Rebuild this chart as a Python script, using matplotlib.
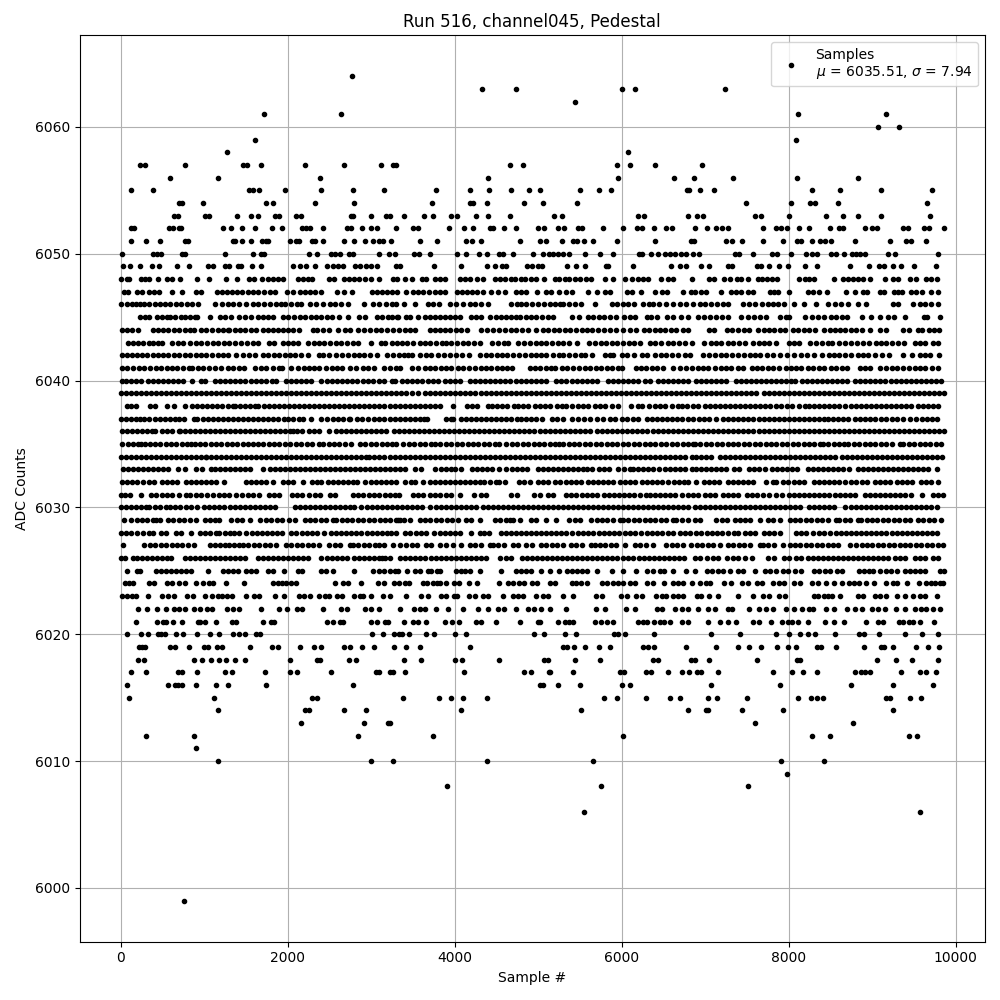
import matplotlib
matplotlib.use("Agg")
import matplotlib.pyplot as plt

# Sample numbers, one list per ADC level
adc_6064 = [2775]
adc_6063 = [4325, 4740, 6000, 6155, 7235]
adc_6062 = [5436]
adc_6061 = [1715, 2637, 8111, 9166]
adc_6060 = [9070, 9321]
adc_6059 = [1607, 8088]
adc_6058 = [1271, 6075]
adc_6057 = [229, 289, 768, 1463, 1511, 1679, 2206, 2673, 3116, 3260, 3300, 4661, 4817, 5943, 6099, 6398, 6962]
adc_6056 = [589, 1164, 2385, 4398, 5955, 6626, 6866, 7333, 8100, 8830]
adc_6055 = [121, 385, 1535, 1583, 1655, 1966, 2397, 2781, 3152, 3775, 4182, 4410, 4673, 4889, 5021, 5500, 5728, 5871, 6782, 6806, 6938, 7105, 8279, 8615, 9106, 9717]
adc_6054 = [696, 732, 984, 1739, 1822, 2326, 2793, 3727, 4182, 4218, 4386, 4829, 5057, 5464, 7489, 8028, 8255, 8315, 8591, 9657]
adc_6053 = [640, 684, 1008, 1056, 1391, 1559, 1643, 1846, 1894, 2098, 2158, 2757, 2781, 2996, 3176, 3220, 3392, 3631, 3739, 3955, 4027, 4254, 4398, 4661, 5189, 5284, 6195, 6267, 6794, 6902, 6974, 7596, 7668, 8004, 8447, 8651, 8830, 9106, 9693]
adc_6052 = [125, 165, 577, 624, 696, 724, 1223, 1319, 1451, 1607, 1810, 1930, 2170, 2222, 2270, 2421, 2709, 2757, 2888, 2996, 3068, 3296, 3500, 3560, 3931, 4110, 4218, 4422, 4458, 4590, 4733, 4997, 5069, 5236, 5308, 5476, 5524, 5776, 6015, 6183, 6243, 6387, 6530, 6602, 6882, 7021, 7129, 7201, 7273, 7692, 7848, 7908, 7980, 8124, 8243, 8495, 8603, 8651, 8914, 8998, 9058, 9369, 9429, 9621, 9681, 9860]
adc_6051 = [129, 301, 469, 768, 812, 1343, 1367, 1451, 1559, 1691, 1742, 1762, 2026, 2098, 2134, 2290, 2333, 2421, 2673, 2793, 2924, 3020, 3092, 3140, 3232, 3583, 3787, 4134, 4206, 4314, 4781, 5021, 5093, 5284, 5416, 5464, 5548, 5656, 5943, 6398, 6830, 6866, 7249, 7321, 7441, 7692, 7932, 8100, 8147, 8279, 8375, 8435, 8507, 8794, 9214, 9405, 9465, 9645]
adc_6050 = [14, 385, 433, 481, 732, 768, 1247, 1583, 1679, 1714, 2254, 2349, 2517, 2565, 2625, 2733, 2781, 3092, 3212, 3284, 3511, 3579, 3703, 4027, 4134, 4290, 4386, 4530, 4578, 4697, 4937, 5057, 5129, 5177, 5236, 5296, 5368, 5560, 5744, 5895, 6207, 6243, 6350, 6434, 6518, 6574, 6634, 6710, 6770, 6854, 6926, 7357, 7405, 7572, 7800, 7860, 8028, 8207, 8279, 8339, 8507, 8567, 8662, 8758, 8810, 8854, 8914, 9190, 9273, 9789]
adc_6049 = [25, 109, 229, 373, 457, 672, 816, 1044, 1104, 1247, 1295, 1403, 1439, 1571, 1679, 2062, 2146, 2218, 2333, 2469, 2541, 2601, 2661, 2805, 2861, 2936, 2996, 3068, 3300, 3340, 3751, 4075, 4386, 4482, 4566, 4614, 4865, 4925, 4997, 5045, 5344, 5452, 5560, 5811, 5835, 6135, 6590, 6698, 6770, 6950, 7045, 7273, 7321, 7620, 7672, 7764, 7884, 7992, 8195, 8339, 8734, 8962, 9082, 9142, 9250, 9345, 9501, 9765]
adc_6048 = [1, 73, 105, 241, 289, 345, 445, 553, 616, 708, 912, 1056, 1259, 1391, 1535, 1595, 1691, 1762, 1822, 1882, 1942, 2122, 2182, 2242, 2290, 2493, 2553, 2673, 2733, 2793, 2852, 2924, 2996, 3092, 3260, 3308, 3404, 3488, 3607, 3655, 3763, 3819, 3879, 4063, 4122, 4182, 4266, 4338, 4482, 4538, 4598, 4673, 4721, 4793, 4841, 4913, 4977, 5069, 5200, 5248, 5320, 5376, 5436, 5496, 5576, 5636, 5800, 5895, 6039, 6123, 6195, 6255, 6315, 6470, 6554, 6614, 6842, 7045, 7105, 7225, 7293, 7381, 7429, 7513, 7632, 7680, 7740, 7800, 7860, 8124, 8195, 8243, 8303, 8543, 8650, 8710, 8770, 8830, 8890, 8970, 9154, 9250, 9310, 9450, 9525, 9645, 9705, 9777]
adc_6047 = [40, 90, 190, 250, 340, 400, 460, 620, 740, 900, 960, 1150, 1210, 1270, 1330, 1390, 1450, 1530, 1590, 1650, 1720, 1790, 1850, 1990, 2060, 2150, 2210, 2270, 2330, 2400, 2590, 2670, 2770, 3010, 3070, 3130, 3190, 3250, 3310, 3420, 3500, 3560, 3620, 3690, 3770, 3830, 3890, 4030, 4090, 4150, 4210, 4270, 4340, 4440, 4520, 4600, 4730, 4790, 4850, 4990, 5090, 5150, 5250, 5330, 5400, 5600, 5700, 5800, 5860, 6060, 6120, 6230, 6400, 6480, 6540, 6734, 6830, 6878, 6950, 7010, 7189, 7305, 7373, 7433, 7513, 7572, 7776, 7824, 7872, 8004, 8231, 8291, 8363, 8459, 8687, 8794, 8890, 8938, 9094, 9142, 9262, 9310, 9357, 9465, 9525, 9597, 9705, 9789]
adc_6046 = [5, 70, 130, 185, 235, 280, 345, 410, 470, 530, 595, 660, 720, 790, 860, 925, 1124, 1210, 1280, 1350, 1420, 1500, 1580, 1650, 1720, 1790, 1860, 1920, 1970, 2040, 2110, 2160, 2270, 2340, 2420, 2510, 2570, 2640, 2720, 2920, 3025, 3100, 3180, 3255, 3300, 3392, 3523, 3685, 3740, 3807, 3947, 4019, 4098, 4180, 4250, 4320, 4398, 4680, 4750, 4790, 4860, 4930, 5000, 5070, 5137, 5200, 5257, 5300, 5370, 5440, 5516, 5680, 5880, 5950, 6015, 6080, 6150, 6255, 6327, 6380, 6450, 6530, 6610, 6700, 6770, 6850, 6934, 7000, 7070, 7140, 7213, 7273, 7460, 7530, 7600, 7680, 7750, 7810, 7872, 7944, 8060, 8183, 8331, 8471, 8555, 8630, 8710, 8835, 8930, 9250, 9310, 9495, 9570, 9640, 9710, 9789]
adc_6045 = [230, 290, 340, 430, 490, 560, 590, 650, 720, 770, 830, 890, 920, 1070, 1190, 1250, 1320, 1420, 1490, 1560, 1650, 1710, 1770, 1830, 1950, 2010, 2080, 2150, 2210, 2280, 2340, 2400, 2470, 2530, 2620, 2720, 2850, 2930, 3070, 3130, 3200, 3250, 3310, 3325, 3420, 3470, 3560, 3640, 3700, 3760, 3820, 3880, 3950, 4010, 4060, 4200, 4260, 4320, 4420, 4490, 4550, 4610, 4670, 4730, 4780, 4860, 4920, 4980, 5050, 5120, 5180, 5400, 5490, 5600, 5660, 5730, 5790, 5860, 5930, 6030, 6100, 6160, 6300, 6350, 6430, 6540, 6620, 6710, 6790, 6920, 6990, 7060, 7130, 7200, 7280, 7430, 7520, 7590, 7660, 7730, 7900, 7970, 8000, 8200, 8280, 8350, 8420, 8510, 8570, 8640, 8700, 8880, 8990, 9100, 9190, 9260, 9400, 9620, 9660, 9810]
adc_6044 = [10, 70, 140, 210, 390, 450, 510, 570, 640, 700, 770, 830, 880, 960, 1020, 1090, 1170, 1230, 1290, 1300, 1370, 1430, 1490, 1560, 1620, 1700, 1760, 1830, 1890, 1950, 2010, 2070, 2130, 2300, 2350, 2420, 2490, 2600, 2690, 2750, 2840, 2910, 2990, 3060, 3120, 3190, 3260, 3330, 3400, 3470, 3530, 3700, 3760, 3820, 3880, 3950, 4020, 4080, 4150, 4320, 4390, 4460, 4530, 4600, 4670, 4740, 4810, 4880, 4980, 5060, 5120, 5190, 5250, 5320, 5380, 5450, 5520, 5590, 5650, 5720, 5790, 5860, 5930, 6020, 6100, 6170, 6270, 6330, 6400, 6460, 6520, 6590, 6650, 6740, 6800, 7050, 7110, 7260, 7320, 7400, 7470, 7530, 7630, 7700, 7760, 7820, 7900, 7960, 8050, 8110, 8180, 8250, 8320, 8430, 8500, 8560, 8620, 8680, 8750, 8810, 8880, 8980, 9100, 9170, 9370, 9440, 9550, 9600, 9680, 9740, 9800]
adc_6043 = [90, 150, 210, 270, 340, 390, 450, 500, 620, 690, 750, 830, 900, 960, 1030, 1100, 1170, 1240, 1300, 1370, 1440, 1510, 1580, 1650, 1780, 1840, 1940, 2000, 2060, 2120, 2240, 2310, 2370, 2440, 2510, 2580, 2640, 2710, 2780, 2840, 3000, 3120, 3170, 3250, 3310, 3370, 3430, 3500, 3580, 3640, 3710, 3780, 3850, 3900, 3960, 4030, 4100, 4160, 4230, 4300, 4450, 4520, 4590, 4640, 4760, 4830, 4900, 4970, 5040, 5100, 5170, 5240, 5300, 5370, 5460, 5610, 5680, 5750, 5810, 5880, 5950, 6020, 6090, 6150, 6220, 6340, 6400, 6470, 6560, 6620, 6690, 6760, 6840, 6990, 7070, 7130, 7190, 7280, 7340, 7410, 7480, 7580, 7640, 7710, 7770, 7850, 8000, 8070, 8130, 8260, 8330, 8400, 8470, 8520, 8610, 8680, 8750, 8820, 8890, 8960, 9050, 9110, 9170, 9240, 9310, 9380, 9510, 9570, 9630, 9730, 9790]
adc_6042 = [10, 70, 130, 190, 250, 320, 390, 450, 510, 570, 640, 700, 770, 830, 900, 960, 1020, 1090, 1170, 1230, 1290, 1380, 1460, 1540, 1610, 1700, 1770, 1840, 1900, 1970, 2030, 2090, 2160, 2240, 2380, 2420, 2500, 2580, 2650, 2720, 2790, 2860, 2920, 2990, 3070, 3190, 3260, 3330, 3390, 3440, 3490, 3580, 3660, 3720, 3800, 3870, 3950, 4020, 4090, 4170, 4300, 4380, 4440, 4510, 4570, 4630, 4700, 4770, 4840, 4910, 4970, 5030, 5100, 5180, 5250, 5300, 5370, 5440, 5510, 5560, 5650, 5800, 5860, 5900, 6000, 6070, 6150, 6250, 6310, 6400, 6470, 6530, 6600, 6670, 6760, 6820, 6980, 7050, 7120, 7190, 7250, 7320, 7390, 7470, 7540, 7600, 7660, 7740, 7810, 7900, 7980, 8070, 8150, 8220, 8300, 8400, 8480, 8540, 8610, 8680, 8750, 8830, 8890, 8950, 9030, 9120, 9200, 9370, 9480, 9580, 9640, 9700, 9800]
adc_6041 = [15, 80, 150, 220, 280, 350, 420, 480, 550, 610, 680, 750, 820, 860, 930, 980, 1060, 1130, 1200, 1290, 1350, 1420, 1480, 1610, 1680, 1740, 1820, 1900, 1930, 2040, 2120, 2190, 2260, 2320, 2380, 2460, 2530, 2590, 2650, 2750, 2820, 2900, 2960, 3040, 3150, 3220, 3300, 3350, 3490, 3560, 3640, 3700, 3760, 3840, 3900, 3960, 4040, 4100, 4170, 4240, 4310, 4380, 4440, 4510, 4570, 4630, 4690, 4900, 4960, 5020, 5090, 5150, 5200, 5290, 5350, 5420, 5490, 5560, 5620, 5690, 5750, 5820, 5890, 5960, 6010, 6170, 6230, 6290, 6360, 6430, 6500, 6620, 6700, 6770, 6840, 6910, 6980, 7040, 7120, 7190, 7250, 7310, 7390, 7450, 7560, 7620, 7680, 7750, 7810, 7890, 7970, 8030, 8090, 8150, 8230, 8290, 8360, 8420, 8510, 8570, 8640, 8700, 8860, 8920, 8980, 9100, 9170, 9240, 9300, 9370, 9440, 9510, 9570, 9640, 9720, 9790]
adc_6040 = [10, 60, 120, 180, 240, 330, 390, 450, 510, 570, 630, 690, 750, 860, 960, 1010, 1130, 1190, 1250, 1310, 1370, 1430, 1490, 1560, 1620, 1680, 1740, 1810, 1860, 1980, 2040, 2100, 2160, 2220, 2280, 2400, 2470, 2530, 2590, 2650, 2710, 2770, 2830, 2900, 2960, 3020, 3090, 3150, 3250, 3290, 3370, 3430, 3490, 3550, 3610, 3680, 3740, 3800, 3880, 3940, 4000, 4060, 4180, 4240, 4300, 4360, 4420, 4480, 4540, 4600, 4660, 4730, 4790, 4860, 4920, 4980, 5040, 5100, 5220, 5280, 5340, 5400, 5460, 5520, 5580, 5640, 5700, 5840, 5900, 5960, 6020, 6080, 6140, 6200, 6280, 6340, 6440, 6500, 6560, 6620, 6680, 6740, 6800, 6890, 6950, 7010, 7070, 7130, 7190, 7250, 7370, 7430, 7490, 7550, 7610, 7670, 7730, 7790, 7850, 7910, 7970, 8030, 8080, 8160, 8220, 8280, 8340, 8400, 8460, 8520, 8580, 8640, 8700, 8790, 8850, 8910, 8970, 9030, 9090, 9150, 9230, 9290, 9350, 9410, 9470, 9530, 9590, 9650, 9710, 9770, 9830]
adc_6039 = [0, 60, 120, 180, 240, 300, 360, 420, 480, 540, 600, 660, 720, 780, 840, 900, 960, 1020, 1080, 1140, 1200, 1260, 1320, 1380, 1440, 1500, 1560, 1620, 1680, 1740, 1800, 1860, 1920, 1980, 2040, 2100, 2160, 2220, 2280, 2340, 2400, 2460, 2520, 2580, 2640, 2700, 2760, 2820, 2880, 2940, 3000, 3060, 3120, 3180, 3240, 3300, 3360, 3420, 3490, 3560, 3640, 3700, 3770, 3830, 3890, 3950, 4010, 4070, 4130, 4190, 4250, 4310, 4370, 4430, 4490, 4550, 4610, 4670, 4730, 4790, 4850, 4910, 4970, 5030, 5090, 5150, 5210, 5270, 5330, 5390, 5450, 5510, 5570, 5630, 5690, 5750, 5810, 5870, 5930, 5990, 6050, 6110, 6170, 6230, 6290, 6350, 6410, 6470, 6530, 6590, 6650, 6710, 6770, 6830, 6890, 6950, 7010, 7070, 7130, 7190, 7250, 7310, 7370, 7430, 7490, 7550, 7610, 7700, 7760, 7820, 7880, 7940, 8000, 8060, 8120, 8180, 8240, 8300, 8360, 8420, 8480, 8540, 8600, 8660, 8720, 8780, 8840, 8900, 8960, 9020, 9080, 9140, 9200, 9260, 9320, 9380, 9440, 9500, 9560, 9620, 9680, 9740, 9800, 9860]
adc_6038 = [70, 120, 180, 350, 410, 560, 640, 770, 860, 910, 970, 1030, 1090, 1150, 1210, 1280, 1350, 1370, 1430, 1490, 1550, 1610, 1640, 1720, 1780, 1840, 1900, 1960, 2020, 2080, 2140, 2200, 2260, 2320, 2380, 2440, 2500, 2560, 2620, 2680, 2740, 2800, 2860, 2920, 2980, 3040, 3100, 3160, 3220, 3280, 3340, 3400, 3460, 3520, 3580, 3640, 3700, 3760, 3830, 3980, 4150, 4210, 4270, 4400, 4450, 4510, 4570, 4630, 4710, 4760, 4820, 4880, 4960, 5020, 5080, 5140, 5230, 5290, 5340, 5410, 5480, 5540, 5600, 5680, 5740, 5800, 5880, 5960, 6110, 6200, 6250, 6330, 6400, 6460, 6520, 6600, 6680, 6720, 6780, 6850, 6910, 7000, 7060, 7120, 7180, 7240, 7300, 7360, 7420, 7480, 7540, 7600, 7660, 7720, 7780, 7850, 7910, 7980, 8040, 8130, 8200, 8250, 8310, 8370, 8430, 8490, 8550, 8610, 8680, 8750, 8810, 8870, 8930, 8990, 9050, 9110, 9170, 9230, 9290, 9350, 9410, 9470, 9550, 9610, 9670, 9730, 9790]
adc_6037 = [0, 60, 120, 180, 230, 280, 340, 410, 470, 530, 590, 650, 700, 760, 880, 920, 980, 1040, 1100, 1160, 1220, 1280, 1350, 1400, 1460, 1520, 1590, 1640, 1700, 1760, 1820, 1880, 1960, 2010, 2070, 2130, 2180, 2280, 2400, 2470, 2540, 2600, 2660, 2730, 2750, 2830, 2890, 2960, 3030, 3090, 3160, 3220, 3280, 3340, 3400, 3460, 3520, 3580, 3630, 3670, 3900, 3980, 3960, 4080, 4140, 4200, 4260, 4320, 4380, 4440, 4500, 4560, 4620, 4680, 4750, 4800, 4860, 4920, 4980, 5050, 5170, 5230, 5300, 5400, 5480, 5550, 5620, 5700, 5780, 5860, 5920, 6010, 6060, 6140, 6200, 6300, 6360, 6420, 6480, 6540, 6600, 6660, 6720, 6790, 6850, 6930, 6990, 7050, 7130, 7220, 7280, 7340, 7400, 7460, 7520, 7580, 7640, 7700, 7760, 7820, 7880, 7950, 8010, 8070, 8130, 8190, 8250, 8310, 8370, 8430, 8470, 8530, 8590, 8650, 8710, 8800, 8860, 8920, 8980, 9040, 9110, 9170, 9240, 9300, 9370, 9460, 9530, 9600, 9660, 9720, 9780]
adc_6036 = [20, 80, 140, 200, 260, 320, 380, 410, 500, 560, 610, 700, 710, 770, 830, 890, 950, 1010, 1070, 1130, 1190, 1250, 1310, 1370, 1430, 1490, 1550, 1610, 1670, 1730, 1790, 1850, 1910, 1970, 2030, 2060, 2110, 2170, 2260, 2320, 2380, 2500, 2580, 2640, 2700, 2760, 2820, 2880, 2940, 3000, 3060, 3120, 3180, 3270, 3330, 3390, 3450, 3510, 3570, 3630, 3690, 3750, 3810, 3870, 3930, 3990, 4050, 4110, 4170, 4230, 4290, 4350, 4410, 4470, 4530, 4590, 4650, 4710, 4770, 4830, 4890, 4950, 5020, 5080, 5140, 5200, 5260, 5320, 5380, 5440, 5500, 5560, 5620, 5700, 5770, 5830, 5890, 5950, 6010, 6070, 6130, 6190, 6250, 6310, 6380, 6440, 6500, 6560, 6620, 6680, 6740, 6800, 6860, 6920, 6980, 7040, 7100, 7160, 7220, 7280, 7340, 7400, 7460, 7520, 7580, 7640, 7700, 7760, 7820, 7880, 7940, 8000, 8060, 8120, 8180, 8240, 8300, 8360, 8420, 8480, 8540, 8600, 8660, 8720, 8780, 8840, 8900, 8960, 9020, 9080, 9140, 9200, 9260, 9320, 9380, 9440, 9500, 9560, 9620, 9680, 9740, 9800, 9860]
adc_6035 = [14, 90, 150, 210, 245, 290, 350, 415, 475, 540, 600, 665, 730, 790, 844, 890, 950, 1015, 1080, 1140, 1205, 1270, 1330, 1395, 1460, 1520, 1585, 1650, 1710, 1775, 1840, 1900, 1965, 2030, 2100, 2165, 2230, 2295, 2380, 2425, 2490, 2555, 2620, 2690, 2760, 2865, 2930, 2995, 3060, 3125, 3190, 3250, 3300, 3385, 3450, 3515, 3580, 3650, 3720, 3765, 3830, 3895, 3960, 4025, 4090, 4155, 4220, 4285, 4350, 4415, 4480, 4535, 4620, 4685, 4750, 4815, 4880, 4945, 5010, 5075, 5140, 5205, 5255, 5300, 5365, 5430, 5495, 5560, 5625, 5690, 5755, 5820, 5885, 5950, 6015, 6080, 6145, 6210, 6275, 6340, 6405, 6470, 6535, 6600, 6665, 6730, 6795, 6850, 6880, 6945, 7010, 7075, 7140, 7205, 7270, 7335, 7400, 7465, 7530, 7595, 7660, 7725, 7790, 7855, 7920, 7985, 8050, 8115, 8180, 8245, 8310, 8375, 8410, 8475, 8540, 8605, 8670, 8715, 8780, 8845, 8910, 8975, 9040, 9105, 9170, 9235, 9330, 9375, 9440, 9505, 9570, 9635, 9700, 9770, 9830]
adc_6034 = [0, 60, 120, 180, 240, 300, 360, 420, 480, 540, 600, 660, 720, 780, 840, 900, 960, 1020, 1020, 1080, 1140, 1200, 1260, 1320, 1380, 1440, 1500, 1560, 1620, 1680, 1740, 1800, 1860, 1920, 1980, 2040, 2100, 2160, 2220, 2280, 2340, 2400, 2460, 2520, 2580, 2640, 2700, 2760, 2820, 2880, 2940, 2980, 3040, 3100, 3160, 3220, 3280, 3340, 3400, 3460, 3520, 3580, 3640, 3700, 3760, 3820, 3880, 3940, 4000, 4060, 4120, 4180, 4240, 4300, 4360, 4420, 4480, 4540, 4600, 4660, 4720, 4780, 4840, 4900, 4960, 5020, 5080, 5140, 5200, 5260, 5320, 5380, 5440, 5500, 5560, 5620, 5680, 5740, 5800, 5860, 5920, 5980, 6040, 6100, 6160, 6220, 6280, 6340, 6400, 6460, 6520, 6580, 6640, 6700, 6760, 6840, 6890, 6950, 7010, 7070, 7180, 7240, 7300, 7360, 7420, 7480, 7540, 7600, 7660, 7720, 7780, 7840, 7900, 7960, 8020, 8080, 8140, 8200, 8260, 8320, 8380, 8440, 8500, 8560, 8640, 8700, 8760, 8820, 8880, 8940, 9000, 9060, 9120, 9180, 9240, 9300, 9360, 9420, 9480, 9540, 9600, 9660, 9720, 9780, 9840]
adc_6033 = [30, 90, 150, 210, 270, 330, 390, 450, 510, 570, 690, 770, 900, 970, 1080, 1130, 1190, 1250, 1310, 1370, 1430, 1490, 1550, 1700, 1790, 1850, 1910, 1970, 2030, 2090, 2150, 2210, 2270, 2330, 2390, 2450, 2510, 2570, 2630, 2690, 2750, 2810, 2870, 2930, 2990, 3050, 3110, 3170, 3230, 3290, 3350, 3410, 3520, 3600, 3770, 3840, 3900, 3960, 4010, 4080, 4210, 4270, 4330, 4390, 4450, 4530, 4620, 4690, 4750, 4810, 4870, 5000, 5060, 5120, 5180, 5240, 5300, 5360, 5420, 5480, 5540, 5590, 5640, 5730, 5790, 5850, 5960, 6030, 6100, 6140, 6200, 6260, 6320, 6380, 6450, 6520, 6580, 6640, 6700, 6760, 6840, 6890, 6950, 7010, 7070, 7130, 7190, 7250, 7350, 7410, 7530, 7590, 7650, 7720, 7800, 7860, 7920, 7980, 8040, 8100, 8230, 8290, 8350, 8410, 8470, 8530, 8590, 8650, 8720, 8830, 8890, 8950, 9010, 9070, 9130, 9190, 9250, 9310, 9370, 9430, 9490, 9550, 9610, 9670, 9780]
adc_6032 = [20, 80, 140, 200, 270, 340, 400, 500, 560, 620, 680, 780, 840, 900, 960, 1020, 1080, 1140, 1240, 1500, 1560, 1620, 1680, 1740, 1830, 1950, 2010, 2070, 2180, 2290, 2350, 2400, 2480, 2540, 2600, 2660, 2720, 2780, 2830, 2930, 3000, 3060, 3120, 3180, 3240, 3300, 3410, 3480, 3530, 3620, 3700, 3760, 3820, 3880, 3940, 4000, 4060, 4120, 4180, 4240, 4300, 4350, 4420, 4490, 4530, 4600, 4770, 4830, 4900, 5000, 5060, 5120, 5200, 5260, 5330, 5390, 5450, 5510, 5600, 5660, 5720, 5780, 5840, 5900, 5980, 6040, 6100, 6160, 6240, 6300, 6370, 6430, 6490, 6550, 6630, 6690, 6750, 6800, 6890, 6990, 7050, 7110, 7170, 7270, 7330, 7390, 7450, 7510, 7570, 7730, 7810, 7850, 7930, 7990, 8060, 8120, 8180, 8310, 8370, 8430, 8490, 8550, 8610, 8680, 8750, 8810, 8880, 8940, 9040, 9100, 9160, 9220, 9300, 9360, 9420, 9480, 9590, 9650, 9710, 9790]
adc_6031 = [0, 50, 110, 240, 360, 420, 490, 560, 620, 700, 780, 830, 900, 960, 1030, 1110, 1180, 1240, 1300, 1380, 1450, 1530, 1590, 1660, 1780, 1840, 1900, 2050, 2110, 2170, 2260, 2330, 2390, 2510, 2570, 2780, 2840, 2900, 2970, 3030, 3090, 3170, 3220, 3290, 3330, 3500, 3560, 3620, 3700, 3760, 3830, 3900, 3960, 4060, 4230, 4320, 4380, 4680, 4750, 4950, 5020, 5120, 5180, 5330, 5390, 5450, 5530, 5590, 5650, 5710, 5790, 5850, 5910, 5970, 6030, 6090, 6150, 6220, 6290, 6340, 6400, 6460, 6520, 6580, 6640, 6720, 6790, 6850, 6910, 7000, 7060, 7120, 7210, 7270, 7330, 7400, 7500, 7560, 7620, 7690, 7770, 7850, 7920, 8000, 8070, 8130, 8190, 8250, 8310, 8370, 8430, 8490, 8560, 8620, 8680, 8740, 8800, 8920, 8980, 9040, 9100, 9160, 9220, 9280, 9340, 9400, 9470, 9600, 9730, 9790, 9850]
adc_6030 = [0, 60, 120, 180, 240, 300, 340, 410, 470, 540, 590, 650, 710, 780, 840, 920, 1000, 1060, 1120, 1180, 1240, 1310, 1370, 1430, 1490, 1550, 1610, 1670, 1730, 1790, 1850, 2090, 2150, 2210, 2270, 2330, 2390, 2450, 2510, 2570, 2630, 2690, 2750, 2800, 2880, 2950, 3010, 3070, 3130, 3190, 3250, 3310, 3370, 3430, 3490, 3550, 3610, 3700, 3780, 3840, 3900, 3960, 4020, 4080, 4140, 4200, 4260, 4340, 4400, 4460, 4520, 4580, 4640, 4700, 4760, 4820, 4880, 4940, 5000, 5060, 5120, 5180, 5240, 5300, 5360, 5420, 5480, 5540, 5600, 5660, 5720, 5780, 5840, 5900, 5960, 6020, 6080, 6140, 6200, 6260, 6320, 6380, 6440, 6500, 6560, 6620, 6680, 6740, 6800, 6880, 6940, 7000, 7060, 7120, 7180, 7240, 7300, 7360, 7420, 7480, 7540, 7600, 7660, 7720, 7780, 7840, 7900, 7960, 8020, 8080, 8140, 8250, 8310, 8370, 8430, 8490, 8550, 8680, 8750, 8810, 8870, 8930, 8990, 9050, 9110, 9170, 9230, 9290, 9350, 9410, 9470, 9530, 9590, 9650, 9710, 9780]
adc_6029 = [45, 125, 190, 255, 320, 385, 425, 465, 565, 630, 695, 760, 825, 904, 1004, 1070, 1135, 1183, 1323, 1390, 1455, 1543, 1663, 1743, 1802, 1868, 1933, 2022, 2082, 2202, 2268, 2333, 2398, 2463, 2541, 2581, 2646, 2711, 2776, 2841, 2906, 2971, 3036, 3101, 3166, 3231, 3296, 3340, 3320, 3390, 3460, 3580, 3645, 3710, 3775, 3840, 3905, 3970, 4035, 4140, 4200, 4300, 4480, 4545, 4610, 4660, 4700, 4780, 4920, 4980, 5097, 5217, 5376, 5440, 5496, 5636, 5700, 5765, 5830, 5895, 5976, 6015, 6080, 6145, 6210, 6275, 6340, 6405, 6470, 6535, 6614, 6654, 6720, 6790, 6880, 6934, 7133, 7198, 7263, 7353, 7413, 7478, 7543, 7652, 7752, 7817, 7892, 8012, 8077, 8142, 8207, 8272, 8337, 8402, 8467, 8570, 8610, 8675, 8740, 8830, 8870, 8935, 9000, 9065, 9130, 9195, 9260, 9325, 9390, 9450, 9550, 9615, 9680, 9745, 9830]
adc_6028 = [0, 60, 120, 190, 270, 340, 390, 480, 540, 660, 720, 840, 950, 1010, 1070, 1140, 1180, 1250, 1310, 1360, 1420, 1500, 1570, 1630, 1690, 1750, 1810, 1870, 1930, 2040, 2100, 2170, 2230, 2290, 2350, 2440, 2520, 2580, 2640, 2700, 2760, 2820, 2880, 2950, 3010, 3070, 3130, 3190, 3240, 3300, 3400, 3470, 3540, 3600, 3660, 3750, 3830, 3890, 3950, 4010, 4070, 4200, 4300, 4350, 4410, 4560, 4620, 4680, 4740, 4800, 4860, 4920, 4980, 5040, 5100, 5160, 5220, 5280, 5340, 5400, 5480, 5540, 5600, 5660, 5730, 5790, 5850, 5910, 5970, 6040, 6100, 6160, 6230, 6300, 6360, 6420, 6480, 6560, 6610, 6700, 6760, 6820, 6890, 6950, 7020, 7080, 7140, 7200, 7280, 7350, 7400, 7480, 7540, 7600, 7710, 7760, 7820, 7900, 8090, 8150, 8210, 8290, 8360, 8430, 8500, 8570, 8630, 8690, 8750, 8810, 8870, 8930, 8990, 9050, 9110, 9170, 9240, 9300, 9360, 9420, 9480, 9540, 9600, 9660, 9720, 9780]
adc_6027 = [33, 285, 350, 415, 480, 545, 610, 675, 740, 805, 884, 1064, 1124, 1190, 1255, 1303, 1363, 1423, 1463, 1530, 1595, 1660, 1725, 1790, 1855, 1982, 2042, 2108, 2173, 2238, 2303, 2381, 2501, 2566, 2631, 2741, 2781, 2846, 2911, 2976, 3041, 3100, 3160, 3260, 3340, 3420, 3485, 3550, 3660, 3720, 3820, 3900, 3980, 4080, 4180, 4245, 4310, 4420, 4460, 4525, 4590, 4700, 4760, 4860, 4925, 5040, 5100, 5165, 5230, 5295, 5396, 5456, 5521, 5636, 5676, 5741, 5806, 5871, 5936, 6035, 6155, 6215, 6295, 6375, 6534, 6600, 6665, 6734, 6834, 6900, 6965, 7030, 7093, 7173, 7273, 7338, 7403, 7468, 7533, 7652, 7692, 7757, 7822, 7932, 8012, 8077, 8142, 8207, 8272, 8337, 8402, 8467, 8532, 8597, 8730, 8810, 8875, 8940, 9005, 9070, 9135, 9200, 9265, 9330, 9395, 9460, 9525, 9590, 9655, 9720, 9785, 9850]
adc_6026 = [0, 55, 145, 200, 255, 315, 375, 435, 490, 550, 600, 770, 830, 890, 950, 1010, 1070, 1130, 1190, 1250, 1310, 1370, 1430, 1490, 1640, 1700, 1760, 1820, 1880, 1940, 2000, 2060, 2120, 2180, 2240, 2400, 2470, 2530, 2590, 2650, 2710, 2800, 2860, 2920, 2980, 3040, 3090, 3130, 3170, 3220, 3350, 3410, 3470, 3530, 3590, 3650, 3720, 3780, 3840, 3900, 3960, 4020, 4080, 4140, 4200, 4260, 4320, 4380, 4540, 4620, 4680, 4810, 4870, 4930, 4990, 5050, 5110, 5170, 5230, 5290, 5350, 5410, 5470, 5530, 5590, 5650, 5710, 5770, 5830, 5890, 5950, 6020, 6080, 6140, 6210, 6270, 6330, 6390, 6450, 6510, 6570, 6630, 6690, 6750, 6880, 6940, 7020, 7100, 7160, 7260, 7330, 7400, 7480, 7560, 7750, 7830, 7950, 8010, 8090, 8150, 8230, 8290, 8350, 8410, 8470, 8530, 8590, 8650, 8710, 8770, 8830, 8890, 8950, 9010, 9070, 9130, 9190, 9280, 9340, 9400, 9510, 9570, 9630, 9730, 9790]
adc_6025 = [80, 190, 230, 420, 480, 540, 600, 660, 720, 780, 840, 1050, 1230, 1290, 1350, 1410, 1500, 1560, 1620, 1760, 1830, 1960, 2120, 2170, 2400, 2460, 2540, 2800, 3020, 3090, 3150, 3220, 3290, 3320, 3430, 3530, 3590, 3680, 3720, 3790, 3830, 4020, 4080, 4130, 4180, 4300, 4560, 4730, 4790, 4850, 4910, 5040, 5140, 5250, 5350, 5410, 5470, 5530, 5590, 5710, 5880, 6020, 6170, 6300, 6380, 6460, 6510, 6610, 6770, 6880, 7020, 7080, 7160, 7220, 7300, 7400, 7460, 7600, 7720, 7780, 7850, 7930, 7990, 8080, 8150, 8300, 8360, 8440, 8500, 8580, 8640, 8840, 8900, 8960, 9010, 9100, 9170, 9230, 9300, 9390, 9450, 9520, 9580, 9630, 9810, 9860]
adc_6024 = [50, 100, 150, 340, 400, 560, 620, 700, 770, 900, 990, 1060, 1110, 1260, 1480, 1820, 1880, 1930, 1980, 2040, 2100, 2570, 2660, 2720, 2880, 3080, 3150, 3270, 3330, 3410, 3450, 3620, 3670, 3740, 3790, 3830, 3900, 3990, 4050, 4170, 4270, 4530, 4640, 4700, 4770, 4830, 4930, 4990, 5140, 5200, 5400, 5450, 5510, 5580, 5770, 5830, 5900, 5960, 6020, 6100, 6160, 6310, 6380, 6510, 6610, 6680, 6740, 6840, 6940, 7010, 7060, 7230, 7310, 7440, 7510, 7620, 7680, 7810, 7880, 7950, 8060, 8140, 8280, 8350, 8450, 8540, 8640, 8720, 8780, 8840, 8930, 9020, 9170, 9250, 9300, 9420, 9560, 9650, 9710, 9760, 9810, 9850]
adc_6023 = [10, 70, 130, 180, 330, 500, 570, 640, 800, 870, 1010, 1090, 1170, 1210, 1270, 1330, 1500, 1600, 1660, 1850, 1960, 2140, 2200, 2270, 2370, 2450, 2500, 2590, 2650, 2800, 2870, 2900, 3000, 3140, 3230, 3420, 3600, 3680, 3840, 3900, 3990, 4030, 4170, 4240, 4340, 4400, 4580, 4700, 4760, 4820, 4970, 5060, 5120, 5300, 5420, 5690, 5760, 5990, 6060, 6170, 6250, 6410, 6490, 6530, 6610, 6670, 6740, 6900, 6950, 7050, 7160, 7400, 7570, 7690, 7760, 7880, 7960, 8300, 8350, 8420, 8470, 8520, 8620, 8830, 8890, 9040, 9100, 9170, 9300, 9400, 9490, 9570, 9630, 9780]
adc_6022 = [210, 310, 430, 540, 640, 700, 770, 880, 950, 1030, 1090, 1270, 1340, 1420, 1680, 1900, 1990, 2110, 2170, 2420, 2640, 2710, 2930, 3000, 3100, 3350, 3510, 3580, 3650, 3780, 3920, 4100, 4280, 4400, 4520, 4590, 4730, 4880, 4950, 5030, 5140, 5330, 5690, 5800, 6050, 6160, 6430, 6490, 6640, 6720, 6800, 6920, 7030, 7120, 7270, 7320, 7530, 7640, 7730, 7810, 7970, 8060, 8160, 8250, 8290, 8450, 8540, 8700, 8800, 8880, 9000, 9070, 9160, 9290, 9400, 9520, 9590, 9650, 9730, 9810]
adc_6021 = [181, 433, 505, 545, 632, 732, 924, 956, 1008, 1136, 1331, 1383, 1703, 1798, 1834, 2469, 2541, 2625, 2661, 2996, 3068, 3164, 3200, 3392, 3499, 3559, 3659, 3883, 3971, 4058, 4258, 4314, 4494, 4781, 4997, 5017, 5237, 5320, 5368, 5416, 5680, 5752, 5824, 5895, 6195, 6255, 6303, 6387, 6458, 6506, 6578, 6726, 6794, 7033, 7177, 7273, 7369, 7573, 7644, 7788, 7920, 7992, 8040, 8112, 8231, 8435, 8543, 8663, 8926, 9070, 9130, 9321, 9369, 9441, 9489, 9569, 9741]
adc_6020 = [73, 241, 325, 445, 477, 529, 660, 744, 912, 1068, 1176, 1343, 1415, 1487, 1619, 1667, 3008, 3140, 3272, 3332, 3368, 3452, 3655, 3751, 4003, 4134, 4949, 5069, 5320, 5452, 5907, 5955, 6039, 6387, 7069, 7417, 7848, 8004, 8136, 8231, 8315, 8555, 8842, 8902, 9082, 9393, 9597, 9789]
adc_6019 = [217, 253, 289, 589, 648, 816, 996, 1044, 1152, 1211, 1547, 1810, 1882, 2146, 2314, 2397, 2673, 2745, 2888, 3032, 3272, 3416, 3583, 4182, 5297, 5344, 5428, 5560, 5728, 5860, 6255, 6315, 6387, 6770, 7129, 7393, 7525, 7668, 7860, 7992, 8088, 8339, 8387, 8567, 8902, 9106, 9142, 9250, 9525, 9669, 9800]
adc_6018 = [205, 277, 876, 972, 1080, 1176, 1259, 1367, 1487, 2026, 2349, 2385, 2733, 2817, 3392, 3595, 4003, 4086, 4530, 5069, 5117, 5440, 5740, 6375, 6435, 6830, 6878, 7045, 7620, 8100, 8136, 9058, 9286, 9477, 9789]
adc_6017 = [121, 301, 684, 732, 912, 1247, 1331, 1727, 2026, 2110, 2517, 3056, 3092, 3224, 3260, 3404, 4110, 4829, 4913, 5129, 5141, 5416, 5979, 6027, 6291, 6351, 6554, 6722, 6806, 6902, 6950, 7153, 7812, 8040, 8171, 8339, 8794, 8866, 8914, 8974, 9345, 9573, 9645, 9765]
adc_6016 = [73, 565, 648, 684, 732, 900, 1140, 1283, 1738, 2781, 5021, 5057, 5237, 5500, 6003, 6099, 7069, 7896, 8746, 9250, 9729]
adc_6015 = [97, 1116, 2290, 2349, 3380, 3811, 3955, 4098, 4386, 5788, 5943, 6291, 6578, 6698, 7033, 7141, 7501, 8112, 8267, 8339, 8411, 9166, 9214, 9453, 9585]
adc_6014 = [1164, 2206, 2254, 2673, 2936, 4074, 5512, 6794, 7009, 7033, 7441, 7932, 9250]
adc_6013 = [2158, 2912, 3200, 3224, 7596, 8770]
adc_6012 = [301, 876, 2841, 3739, 6015, 8279, 8495, 9441, 9537]
adc_6011 = [900]
adc_6010 = [1164, 2996, 3260, 4386, 5656, 7908, 8423]
adc_6009 = [7980]
adc_6008 = [3907, 5752, 7513]
adc_6006 = [5548, 9573]
adc_5999 = [756]

rows = {
    6064: adc_6064, 6063: adc_6063, 6062: adc_6062, 6061: adc_6061, 6060: adc_6060,
    6059: adc_6059, 6058: adc_6058, 6057: adc_6057, 6056: adc_6056, 6055: adc_6055,
    6054: adc_6054, 6053: adc_6053, 6052: adc_6052, 6051: adc_6051, 6050: adc_6050,
    6049: adc_6049, 6048: adc_6048, 6047: adc_6047, 6046: adc_6046, 6045: adc_6045,
    6044: adc_6044, 6043: adc_6043, 6042: adc_6042, 6041: adc_6041, 6040: adc_6040,
    6039: adc_6039, 6038: adc_6038, 6037: adc_6037, 6036: adc_6036, 6035: adc_6035,
    6034: adc_6034, 6033: adc_6033, 6032: adc_6032, 6031: adc_6031, 6030: adc_6030,
    6029: adc_6029, 6028: adc_6028, 6027: adc_6027, 6026: adc_6026, 6025: adc_6025,
    6024: adc_6024, 6023: adc_6023, 6022: adc_6022, 6021: adc_6021, 6020: adc_6020,
    6019: adc_6019, 6018: adc_6018, 6017: adc_6017, 6016: adc_6016, 6015: adc_6015,
    6014: adc_6014, 6013: adc_6013, 6012: adc_6012, 6011: adc_6011, 6010: adc_6010,
    6009: adc_6009, 6008: adc_6008, 6006: adc_6006, 5999: adc_5999,
}

samples = []
counts = []
for level, xs in rows.items():
    samples.extend(xs)
    counts.extend([level] * len(xs))

plt.figure(figsize=(10, 10))
plt.plot(samples, counts, 'k.', label="Samples\n$\\mu$ = 6035.51, $\\sigma$ = 7.94")
plt.title('Run 516, channel045, Pedestal')
plt.xlabel('Sample #')
plt.ylabel('ADC Counts')
plt.grid(True)
plt.legend(loc='upper right')
plt.tight_layout()
plt.subplots_adjust(top=0.965)
plt.savefig('out.png', dpi=100)
